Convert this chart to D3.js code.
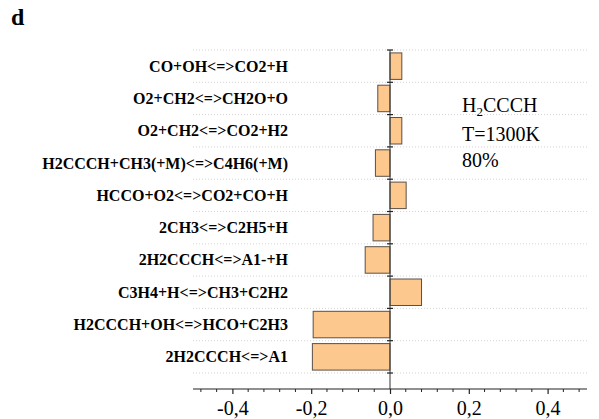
<!DOCTYPE html>
<html>
<head>
<meta charset="utf-8">
<script src="https://cdn.jsdelivr.net/npm/d3@7"></script>
<style>
html,body{margin:0;padding:0;background:#fff;}
svg{display:block;}
</style>
</head>
<body>
<svg id="chart" width="599" height="419"></svg>
<script>
const reactions = [
  "CO+OH<=>CO2+H",
  "O2+CH2<=>CH2O+O",
  "O2+CH2<=>CO2+H2",
  "H2CCCH+CH3(+M)<=>C4H6(+M)",
  "HCCO+O2<=>CO2+CO+H",
  "2CH3<=>C2H5+H",
  "2H2CCCH<=>A1-+H",
  "C3H4+H<=>CH3+C2H2",
  "H2CCCH+OH<=>HCO+C2H3",
  "2H2CCCH<=>A1"
];
const sensitivity = [0.030, -0.031, 0.030, -0.037, 0.041, -0.043, -0.063, 0.080, -0.195, -0.197];
const majorTicks = [-0.4, -0.2, 0.0, 0.2, 0.4];
const minorTicks = [-0.48, -0.44, -0.36, -0.32, -0.28, -0.24, -0.16, -0.12, -0.08, -0.04, 0.04, 0.08, 0.12, 0.16, 0.24, 0.28, 0.32, 0.36, 0.44, 0.48];
const annotation = ["T=1300K", "80%"];

const svg = d3.select("#chart");
const x = d3.scaleLinear().domain([-0.5, 0.5]).range([193, 587]);
const y = d3.scaleBand().domain(reactions).range([50, 373]).paddingInner(0.18).paddingOuter(0.09);
const axisY = 389;
const fmt = d => (d < 0 ? "-" : "") + Math.abs(d).toFixed(1).replace(".", ",");

const step = y.step();
const y0 = y.range()[0];
const bounds = d3.range(reactions.length + 1).map(i => y0 + i * step);

// faint dotted gridlines
svg.append("g").selectAll("line").data(bounds).join("line")
  .attr("x1", 193).attr("x2", 587)
  .attr("y1", d => d).attr("y2", d => d)
  .attr("stroke", "#d4d4d4").attr("stroke-width", 1)
  .attr("stroke-dasharray", "1,2");

// bars
svg.append("g").selectAll("rect").data(reactions).join("rect")
  .attr("x", (d, i) => x(Math.min(0, sensitivity[i])))
  .attr("y", d => y(d))
  .attr("width", (d, i) => Math.abs(x(sensitivity[i]) - x(0)))
  .attr("height", y.bandwidth())
  .attr("fill", "#fdc88d")
  .attr("stroke", "#5a5047").attr("stroke-width", 1);

// vertical zero axis
svg.append("line")
  .attr("x1", x(0)).attr("x2", x(0))
  .attr("y1", y0).attr("y2", axisY)
  .attr("stroke", "#333").attr("stroke-width", 1);
svg.append("g").selectAll("line").data(bounds).join("line")
  .attr("x1", x(0) - 3).attr("x2", x(0) + 3)
  .attr("y1", d => d).attr("y2", d => d)
  .attr("stroke", "#222").attr("stroke-width", 1.2);

// category labels
svg.append("g").selectAll("text").data(reactions).join("text")
  .attr("x", 288)
  .attr("y", d => y(d) + y.bandwidth() / 2 + 5.5)
  .attr("text-anchor", "end")
  .attr("font-family", "'Liberation Serif', 'Times New Roman', serif")
  .attr("font-weight", "bold")
  .attr("font-size", 16)
  .attr("fill", "#000")
  .text(d => d);

// x axis
const gx = svg.append("g").attr("transform", `translate(0,${axisY})`);
gx.call(d3.axisBottom(x).tickValues(majorTicks).tickFormat(fmt).tickSize(5).tickPadding(7));
gx.select(".domain").remove();
gx.append("line").attr("x1", x.range()[0]).attr("x2", x.range()[1])
  .attr("y1", 0).attr("y2", 0).attr("stroke", "#222").attr("stroke-width", 1.2);
gx.selectAll(".tick line").attr("stroke", "#222").attr("stroke-width", 1.2);
gx.selectAll(".tick text")
  .attr("font-family", "'Liberation Serif', 'Times New Roman', serif")
  .attr("font-size", 20).attr("fill", "#000");
gx.append("g").selectAll("line").data(minorTicks).join("line")
  .attr("x1", d => x(d)).attr("x2", d => x(d))
  .attr("y1", 0).attr("y2", 3)
  .attr("stroke", "#222").attr("stroke-width", 1);

// panel letter
svg.append("text").attr("x", 11).attr("y", 25)
  .attr("font-family", "'Liberation Serif', 'Times New Roman', serif")
  .attr("font-weight", "bold").attr("font-size", 24).attr("fill", "#000")
  .text("d");

// annotation
const ann = svg.append("g")
  .attr("font-family", "'Liberation Serif', 'Times New Roman', serif")
  .attr("font-size", 20).attr("fill", "#000");
const t1 = ann.append("text").attr("x", 462).attr("y", 112);
t1.append("tspan").text("H");
t1.append("tspan").attr("font-size", 13).attr("dy", 4).text("2");
t1.append("tspan").attr("dy", -4).text("CCCH");
ann.selectAll("text.l").data(annotation).join("text").attr("class", "l")
  .attr("x", 462).attr("y", (d, i) => 141 + i * 26)
  .text(d => d);
</script>
</body>
</html>
